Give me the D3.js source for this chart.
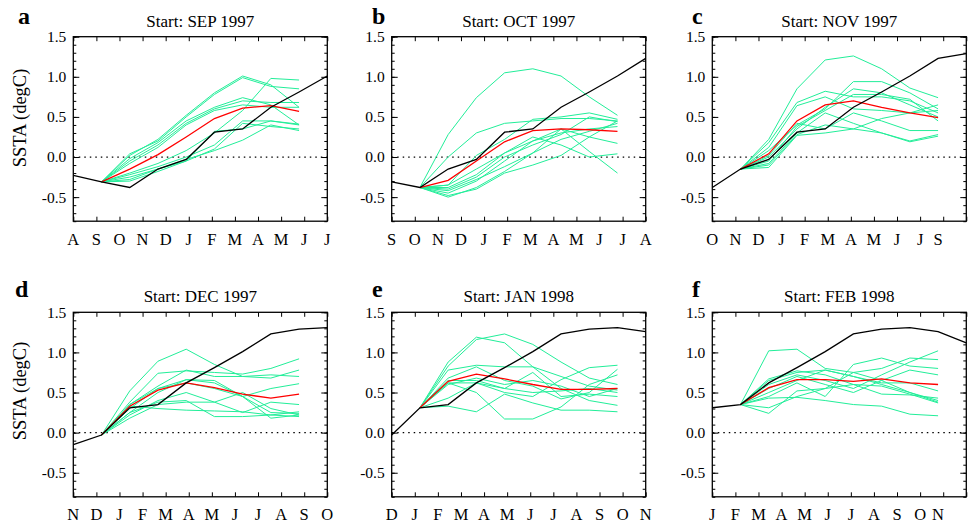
<!DOCTYPE html>
<html><head><meta charset="utf-8">
<script src="https://cdn.jsdelivr.net/npm/d3@7"></script>
<style>body{margin:0;background:#fff}svg{display:block}
text{font-family:"Liberation Serif","DejaVu Serif","Noto Serif",serif;}
</style>
</head><body>
<svg id="c" width="969" height="524"></svg>
<script>
// Observed SSTA, AUG 1997 ... OCT 1998
const obsMonths = ["AUG97","SEP97","OCT97","NOV97","DEC97","JAN98","FEB98","MAR98","APR98","MAY98","JUN98","JUL98","AUG98","SEP98","OCT98"];
const obsValues = [-0.23,-0.31,-0.38,-0.15,-0.03,0.31,0.35,0.62,0.81,1.01,1.23,1.29,1.31,1.26,1.12];

const panelLetters = ["a","b","c","d","e","f"];
const panelTitles = ["Start: SEP 1997","Start: OCT 1997","Start: NOV 1997","Start: DEC 1997","Start: JAN 1998","Start: FEB 1998"];
const monthLabelsA = ["A","S","O","N","D","J","F","M","A","M","J","J"];
const monthLabelsB = ["S","O","N","D","J","F","M","A","M","J","J","A"];
const monthLabelsC = ["O","N","D","J","F","M","A","M","J","J","S"];
const monthLabelsD = ["N","D","J","F","M","A","M","J","J","A","S","O"];
const monthLabelsE = ["D","J","F","M","A","M","J","J","A","S","O","N"];
const monthLabelsF = ["J","F","M","A","M","J","J","A","S","O","N"];
const yTickLabels = [-0.5, 0.0, 0.5, 1.0, 1.5];

// Ensemble means (lead 0..7)
const meanA = [-0.31,-0.15,0.03,0.25,0.48,0.61,0.64,0.57];
const meanB = [-0.38,-0.29,-0.05,0.19,0.33,0.35,0.34,0.32];
const meanC = [-0.15,0.04,0.45,0.65,0.70,0.62,0.55,0.49];
const meanD = [-0.03,0.33,0.53,0.62,0.56,0.48,0.43,0.48];
const meanE = [0.31,0.64,0.73,0.67,0.60,0.54,0.54,0.55];
const meanF = [0.35,0.56,0.66,0.66,0.64,0.67,0.62,0.60];

// Ensemble members (lead 0..7)
const membersA = [
 [-0.31,0.02,0.22,0.52,0.80,1.01,0.90,0.62],
 [-0.31,0.04,0.20,0.50,0.78,0.99,0.88,0.85],
 [-0.31,-0.02,0.18,0.45,0.62,0.74,0.65,0.40],
 [-0.31,-0.05,0.15,0.42,0.60,0.70,0.68,0.68],
 [-0.31,-0.08,0.12,0.40,0.58,0.65,0.62,0.62],
 [-0.31,-0.20,-0.08,0.08,0.30,0.58,0.98,0.96],
 [-0.31,-0.22,-0.12,0.00,0.15,0.45,0.45,0.40],
 [-0.31,-0.25,-0.15,-0.05,0.10,0.42,0.38,0.35],
 [-0.31,-0.28,-0.15,-0.03,0.08,0.21,0.40,0.33],
 [-0.31,-0.30,-0.18,-0.05,0.32,0.35,0.45,0.41]
];
const membersB = [
 [-0.38,0.28,0.74,1.05,1.10,1.01,0.75,0.52],
 [-0.38,0.00,0.30,0.42,0.45,0.48,0.48,0.45],
 [-0.38,-0.35,0.02,0.22,0.47,0.50,0.55,0.47],
 [-0.38,-0.45,-0.30,-0.05,0.20,0.35,0.25,0.17],
 [-0.38,-0.50,-0.38,-0.18,0.05,0.35,0.07,-0.20],
 [-0.38,-0.48,-0.40,-0.20,-0.10,0.02,0.25,0.45],
 [-0.38,-0.42,-0.28,-0.12,0.05,0.22,0.32,0.42],
 [-0.38,-0.38,-0.22,0.05,0.20,0.30,0.35,0.38],
 [-0.38,-0.40,-0.25,0.00,0.15,0.28,0.50,0.44],
 [-0.38,-0.35,-0.15,0.05,0.25,0.15,0.00,0.04]
];
const membersC = [
 [-0.15,0.22,0.85,1.21,1.26,1.10,0.86,0.74],
 [-0.15,0.18,0.68,0.82,0.75,0.75,0.70,0.55],
 [-0.15,0.12,0.64,0.75,0.60,0.58,0.55,0.58],
 [-0.15,0.08,0.40,0.60,0.94,0.94,0.80,0.60],
 [-0.15,0.00,0.35,0.62,0.85,0.80,0.65,0.50],
 [-0.15,-0.05,0.38,0.58,0.78,0.78,0.72,0.45],
 [-0.15,-0.08,0.30,0.55,0.42,0.30,0.20,0.28],
 [-0.15,-0.10,0.28,0.40,0.35,0.30,0.19,0.26],
 [-0.15,-0.13,0.27,0.30,0.35,0.48,0.55,0.65],
 [-0.15,0.02,0.42,0.35,0.55,0.45,0.33,0.33]
];
const membersD = [
 [-0.03,0.52,0.89,1.04,0.85,0.70,0.72,0.70],
 [-0.03,0.38,0.74,0.77,0.75,0.73,0.80,0.92],
 [-0.03,0.35,0.58,0.78,0.70,0.70,0.68,0.78],
 [-0.03,0.30,0.55,0.66,0.62,0.45,0.55,0.61],
 [-0.03,0.25,0.50,0.66,0.65,0.45,0.25,0.24],
 [-0.03,0.22,0.40,0.50,0.38,0.25,0.38,0.35],
 [-0.03,0.18,0.35,0.38,0.38,0.50,0.30,0.22],
 [-0.03,0.33,0.30,0.28,0.27,0.26,0.22,0.26],
 [-0.03,0.25,0.38,0.40,0.20,0.20,0.22,0.20],
 [-0.03,0.35,0.55,0.62,0.55,0.45,0.18,0.22]
];
const membersE = [
 [0.31,0.88,1.19,1.12,0.82,0.70,0.58,0.53],
 [0.31,0.83,1.16,1.23,1.10,0.88,0.68,0.60],
 [0.31,0.78,0.84,0.82,0.82,0.55,0.40,0.34],
 [0.31,0.68,0.82,0.65,0.58,0.42,0.50,0.79],
 [0.31,0.65,0.65,0.55,0.50,0.52,0.55,0.50],
 [0.31,0.62,0.62,0.50,0.45,0.66,0.81,0.84],
 [0.31,0.62,0.50,0.17,0.17,0.32,0.60,0.72],
 [0.31,0.43,0.62,0.55,0.75,0.45,0.48,0.45],
 [0.31,0.33,0.26,0.48,0.37,0.28,0.28,0.26],
 [0.31,0.60,0.68,0.60,0.65,0.58,0.45,0.55]
];
const membersF = [
 [0.35,1.02,1.04,0.80,0.75,0.65,0.50,0.38],
 [0.35,0.67,0.77,0.72,0.60,0.58,0.48,0.37],
 [0.35,0.65,0.75,0.78,0.70,0.62,0.62,0.52],
 [0.35,0.60,0.72,0.65,0.55,0.72,0.88,1.02],
 [0.35,0.55,0.70,0.60,0.50,0.65,0.78,0.72],
 [0.35,0.45,0.62,0.45,0.85,0.93,0.83,0.80],
 [0.35,0.43,0.44,0.40,0.35,0.33,0.23,0.21],
 [0.35,0.31,0.45,0.55,0.75,0.80,0.93,0.91],
 [0.35,0.24,0.52,0.55,0.60,0.48,0.47,0.43],
 [0.35,0.50,0.65,0.78,0.70,0.60,0.50,0.40]
];

const monthLabelSets = [monthLabelsA,monthLabelsB,monthLabelsC,monthLabelsD,monthLabelsE,monthLabelsF];
const meanSets = [meanA,meanB,meanC,meanD,meanE,meanF];
const memberSets = [membersA,membersB,membersC,membersD,membersE,membersF];

const FONT = '"Liberation Serif","DejaVu Serif","Noto Serif",serif';
const GREEN = "#22EE99";
const svg = d3.select("#c");

const boxLefts = [73.3, 391.7, 712.3];
const boxTops = [36.7, 312.3];
const boxW = 254, boxH = 184.5;
const letterX = [[18, 372, 692],[15, 372, 692]];
const letterY = [24, 297];

for (let p = 0; p < 6; p++) {
  const col = p % 3, row = Math.floor(p / 3);
  const x0 = boxLefts[col], y0 = boxTops[row];
  const g = svg.append("g");

  const x = d3.scaleLinear().domain([0, 9]).range([x0, x0 + boxW]);
  const xm = d3.scaleLinear().domain([0, 11]).range([x0, x0 + boxW]);
  const y = d3.scaleLinear().domain([-0.8, 1.5]).range([y0 + boxH, y0]);

  // zero line
  g.append("line").attr("x1", x0).attr("x2", x0 + boxW).attr("y1", y(0)).attr("y2", y(0))
    .attr("stroke", "#000").attr("stroke-width", 1.3).attr("stroke-dasharray", "1.5,4");

  // axes: minor/major ticks left & right
  const minor = d3.range(-8, 16).map(v => v / 10);
  const axL1 = g.append("g").attr("transform", `translate(${x0},0)`)
    .call(d3.axisLeft(y).tickValues(minor).tickSize(-3).tickFormat(""));
  const axL2 = g.append("g").attr("transform", `translate(${x0},0)`)
    .call(d3.axisLeft(y).tickValues(yTickLabels).tickSize(-6).tickPadding(7).tickFormat(v => v.toFixed(1)));
  const axR1 = g.append("g").attr("transform", `translate(${x0 + boxW},0)`)
    .call(d3.axisRight(y).tickValues(minor).tickSize(-3).tickFormat(""));
  const axR2 = g.append("g").attr("transform", `translate(${x0 + boxW},0)`)
    .call(d3.axisRight(y).tickValues(yTickLabels).tickSize(-6).tickFormat(""));
  const axB = g.append("g").attr("transform", `translate(0,${y0 + boxH})`)
    .call(d3.axisBottom(xm).tickValues(d3.range(0, 12)).tickSize(-4.5).tickFormat(""));
  const axT = g.append("g").attr("transform", `translate(0,${y0})`)
    .call(d3.axisTop(xm).tickValues(d3.range(0, 12)).tickSize(-4.5).tickFormat(""));
  [axL1, axL2, axR1, axR2, axB, axT].forEach(a => {
    a.select(".domain").remove();
    a.selectAll("line").attr("stroke", "#000").attr("stroke-width", 1);
  });
  axL2.attr("font-family", null).attr("font-size", null);
  axL2.selectAll("text").style("font-family", FONT).style("font-size", "15.5px").attr("fill", "#000");

  // month labels
  const labels = monthLabelSets[p];
  labels.forEach((lab, i) => {
    const px = (labels.length === 11 && i === 10) ? x(8) : xm(i);
    g.append("text").attr("x", px).attr("y", y0 + boxH + 23.5)
      .attr("text-anchor", "middle").style("font-family", FONT).style("font-size", "16.5px").text(lab);
  });

  // box
  g.append("rect").attr("x", x0).attr("y", y0).attr("width", boxW).attr("height", boxH)
    .attr("fill", "none").attr("stroke", "#000").attr("stroke-width", 1.3);

  const line = d3.line().x(d => x(d.i)).y(d => y(d.v));

  // ensemble members
  memberSets[p].forEach(m => {
    g.append("path").datum(m.map((v, k) => ({i: k + 1, v})))
      .attr("d", line).attr("fill", "none").attr("stroke", GREEN).attr("stroke-width", 1);
  });
  // ensemble mean
  g.append("path").datum(meanSets[p].map((v, k) => ({i: k + 1, v})))
    .attr("d", line).attr("fill", "none").attr("stroke", "#ff0000").attr("stroke-width", 1.3);
  // observed
  g.append("path").datum(obsValues.slice(p, p + 10).map((v, k) => ({i: k, v})))
    .attr("d", line).attr("fill", "none").attr("stroke", "#000").attr("stroke-width", 1.3);

  // title
  svg.append("text").attr("x", x0 + boxW / 2).attr("y", y0 - 10)
    .attr("text-anchor", "middle").style("font-family", FONT).style("font-size", "17px").text(panelTitles[p]);
  // letter
  svg.append("text").attr("x", letterX[row][col]).attr("y", letterY[row])
    .style("font-family", FONT).style("font-weight", "bold").style("font-size", "24px").text(panelLetters[p]);

  if (col === 0) {
    const cy = row === 0 ? 118 : 391;
    svg.append("text").attr("transform", `translate(26,${cy}) rotate(-90)`)
      .attr("text-anchor", "middle").style("font-family", FONT).style("font-size", "18.5px").text("SSTA (degC)");
  }
}
</script>
</body></html>
